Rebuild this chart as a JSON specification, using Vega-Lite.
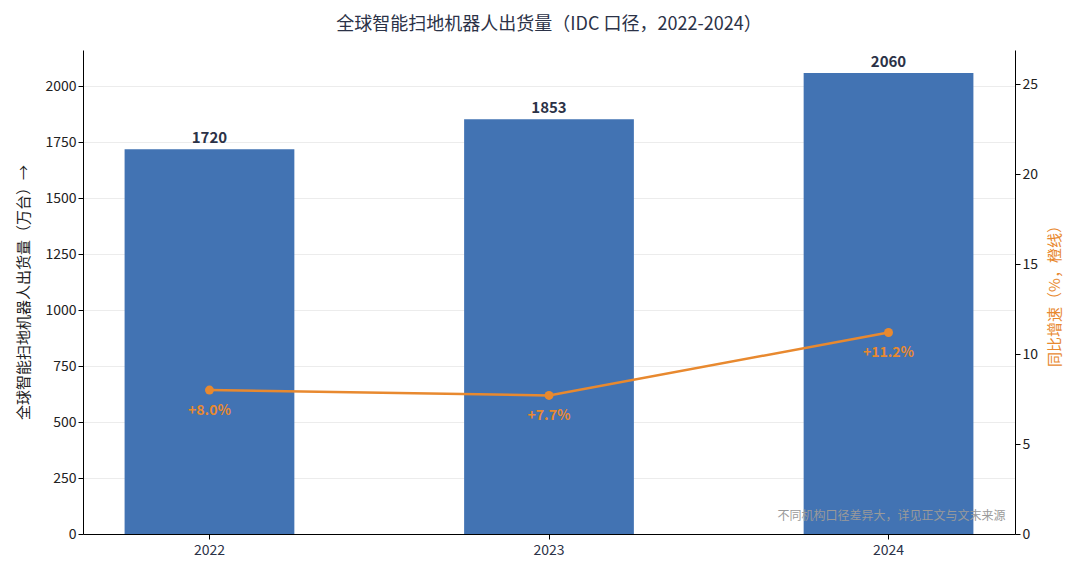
{
  "$schema": "https://vega.github.io/schema/vega-lite/v6.json",
  "width": 932,
  "height": 484,
  "autosize": "none",
  "padding": {"left": 83, "top": 50, "right": 65, "bottom": 43},
  "background": "white",
  "title": {
    "text": "全球智能扫地机器人出货量（IDC 口径，2022-2024）",
    "fontSize": 18,
    "fontWeight": "normal",
    "color": "#2b3247",
    "offset": 16
  },
  "data": {
    "values": [
      {"year": "2022", "shipments": 1720, "yoy": 8.0, "yoyLabel": "+8.0%"},
      {"year": "2023", "shipments": 1853, "yoy": 7.7, "yoyLabel": "+7.7%"},
      {"year": "2024", "shipments": 2060, "yoy": 11.2, "yoyLabel": "+11.2%"}
    ]
  },
  "encoding": {
    "x": {
      "field": "year",
      "type": "ordinal",
      "scale": {"paddingInner": 0.5, "paddingOuter": 0.1225},
      "axis": {"title": null, "labelAngle": 0, "labelFontSize": 14, "labelColor": "#2b3247", "labelPadding": 4}
    }
  },
  "layer": [
    {
      "encoding": {
        "y": {
          "field": "shipments",
          "type": "quantitative",
          "scale": {"domain": [0, 2163], "nice": false},
          "axis": {
            "title": "全球智能扫地机器人出货量（万台）→",
            "titleFontSize": 15,
            "titleFontWeight": "normal",
            "titleColor": "#222222",
            "values": [0, 250, 500, 750, 1000, 1250, 1500, 1750, 2000],
            "format": "d",
            "grid": true,
            "gridColor": "#ececec",
            "labelFontSize": 14,
            "labelColor": "#222222",
            "titlePadding": 13
          }
        }
      },
      "layer": [
        {"mark": {"type": "bar", "color": "#4273b3"}},
        {
          "mark": {"type": "text", "dy": -11, "fontSize": 15, "fontWeight": "bold", "color": "#2b3247"},
          "encoding": {"text": {"field": "shipments", "type": "quantitative"}}
        },
        {
          "transform": [{"filter": "datum.year == '2024'"}],
          "mark": {"type": "text", "align": "right", "baseline": "middle", "dx": 32, "dy": -18, "fontSize": 12, "color": "#9a9a9a"},
          "encoding": {
            "x": {"field": "year", "type": "ordinal", "bandPosition": 1},
            "y": {"datum": 0, "type": "quantitative"},
            "text": {"value": "不同机构口径差异大，详见正文与文末来源"}
          }
        }
      ]
    },
    {
      "encoding": {
        "y": {
          "field": "yoy",
          "type": "quantitative",
          "scale": {"domain": [0, 26.9], "nice": false},
          "axis": {
            "orient": "right",
            "title": "同比增速（%，橙线）",
            "titleFontSize": 15,
            "titleFontWeight": "normal",
            "titleColor": "#e8892f",
            "titleAngle": -90,
            "titleBaseline": "top",
            "values": [0, 5, 10, 15, 20, 25],
            "grid": false,
            "labelFontSize": 14,
            "labelColor": "#222222",
            "titlePadding": 10
          }
        }
      },
      "layer": [
        {
          "mark": {"type": "line", "color": "#e8892f", "strokeWidth": 2.5, "point": {"filled": true, "size": 80, "color": "#e8892f"}}
        },
        {
          "mark": {"type": "text", "dy": 21, "fontSize": 14, "fontWeight": "bold", "color": "#e8892f"},
          "encoding": {"text": {"field": "yoyLabel", "type": "nominal"}}
        }
      ]
    }
  ],
  "resolve": {"scale": {"y": "independent"}},
  "config": {
    "font": "Noto Sans CJK SC",
    "view": {"stroke": null},
    "axis": {"domainColor": "#000000", "tickColor": "#000000", "tickSize": 5, "domainWidth": 1}
  }
}
